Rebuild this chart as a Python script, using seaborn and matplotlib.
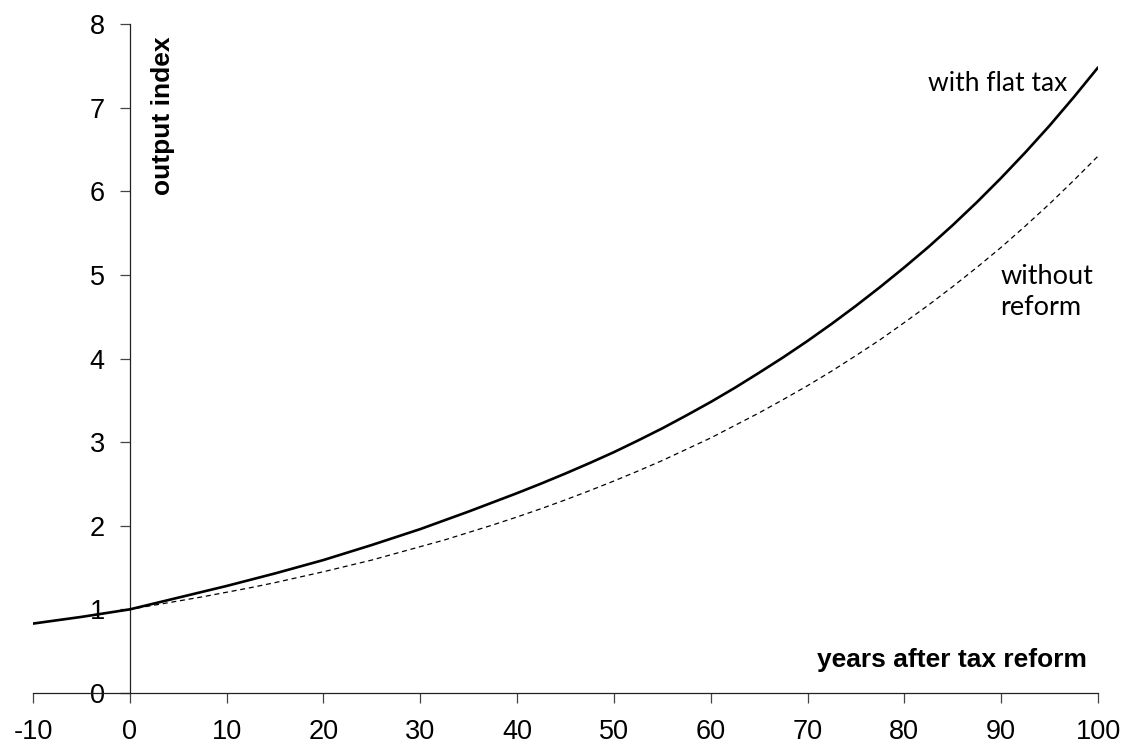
import matplotlib
matplotlib.use("Agg")
import matplotlib.pyplot as plt
import seaborn as sns
import pandas as pd

years = [-10, -7.5, -5, -2.5, 0, 2.5, 5, 7.5, 10, 12.5, 15, 17.5, 20, 22.5, 25, 27.5, 30, 32.5,
         35, 37.5, 40, 42.5, 45, 47.5, 50, 52.5, 55, 57.5, 60, 62.5, 65, 67.5, 70, 72.5, 75,
         77.5, 80, 82.5, 85, 87.5, 90, 92.5, 95, 97.5, 100]
with_flat_tax = [0.83, 0.87, 0.91, 0.955, 1.00, 1.07, 1.14, 1.21, 1.28, 1.355, 1.43, 1.51, 1.59,
                 1.68, 1.77, 1.865, 1.96, 2.065, 2.17, 2.28, 2.39, 2.505, 2.625, 2.75, 2.88, 3.02,
                 3.165, 3.32, 3.48, 3.65, 3.83, 4.015, 4.21, 4.415, 4.63, 4.855, 5.09, 5.335, 5.595,
                 5.87, 6.16, 6.465, 6.785, 7.125, 7.48]
without_reform = [0.83, 0.87, 0.91, 0.955, 1.00, 1.05, 1.10, 1.15, 1.205, 1.26, 1.32, 1.385, 1.45,
                  1.52, 1.59, 1.67, 1.75, 1.83, 1.92, 2.01, 2.105, 2.205, 2.31, 2.42, 2.535,
                  2.655, 2.78, 2.915, 3.05, 3.20, 3.35, 3.51, 3.675, 3.85, 4.035, 4.225, 4.43,
                  4.64, 4.86, 5.09, 5.33, 5.585, 5.85, 6.13, 6.42]
x_ticks = [-10, 0, 10, 20, 30, 40, 50, 60, 70, 80, 90, 100]
y_ticks = [0, 1, 2, 3, 4, 5, 6, 7, 8]

sns.set_theme(style="white")
plt.rcParams['font.family'] = ['Liberation Sans', 'DejaVu Sans']
plt.rcParams['text.color'] = 'black'

df = pd.DataFrame({"year": years, "flat": with_flat_tax, "without": without_reform})

fig = plt.figure(figsize=(11.25, 7.45), dpi=100)
ax = fig.add_axes([33/1125, 1-693/745, (1098-33)/1125, (693-24)/745])

sns.lineplot(data=df, x="year", y="without", ax=ax, color="black", lw=0.9,
             linestyle=(0, (4, 3)), zorder=2)
sns.lineplot(data=df, x="year", y="flat", ax=ax, color="black", lw=1.9, zorder=3)

ax.set_xlim(-10, 100)
ax.set_ylim(0, 8)
ax.set_xticks(x_ticks)
ax.set_yticks(y_ticks)
ax.set_xticklabels([str(t) for t in x_ticks])
ax.set_yticklabels([str(t) for t in y_ticks])
ax.set_xlabel("")
ax.set_ylabel("")

for s in ["top", "right"]:
    ax.spines[s].set_visible(False)
ax.spines["left"].set_position(("data", 0))
ax.spines["bottom"].set_position(("data", 0))
for s in ["left", "bottom"]:
    ax.spines[s].set_color("#222222")
    ax.spines[s].set_linewidth(0.9)

ax.tick_params(axis="both", which="major", direction="out", length=7, width=0.9,
               color="#444444", labelsize=19.5, labelcolor="black")
ax.tick_params(axis="x", pad=12)
ax.tick_params(axis="y", pad=11)
ax.tick_params(left=True, bottom=True)

ax.text(3.4, 6.9, "output index", rotation=90, ha="center", va="center",
        fontsize=19, fontweight="bold", family=["Liberation Sans"], color="black")
ax.text(98.9, 0.39, "years after tax reform", ha="right", va="center",
        fontsize=19, fontweight="bold", family=["Liberation Sans"], color="black")
ax.text(96.8, 7.29, "with flat tax", ha="right", va="center", fontsize=19,
        family=["Lato", "DejaVu Sans"], color="black")
ax.text(89.9, 4.80, "without\nreform", ha="left", va="center", fontsize=19.5,
        family=["Lato", "DejaVu Sans"], linespacing=1.3, color="black")

fig.savefig("out.png", dpi=100)
